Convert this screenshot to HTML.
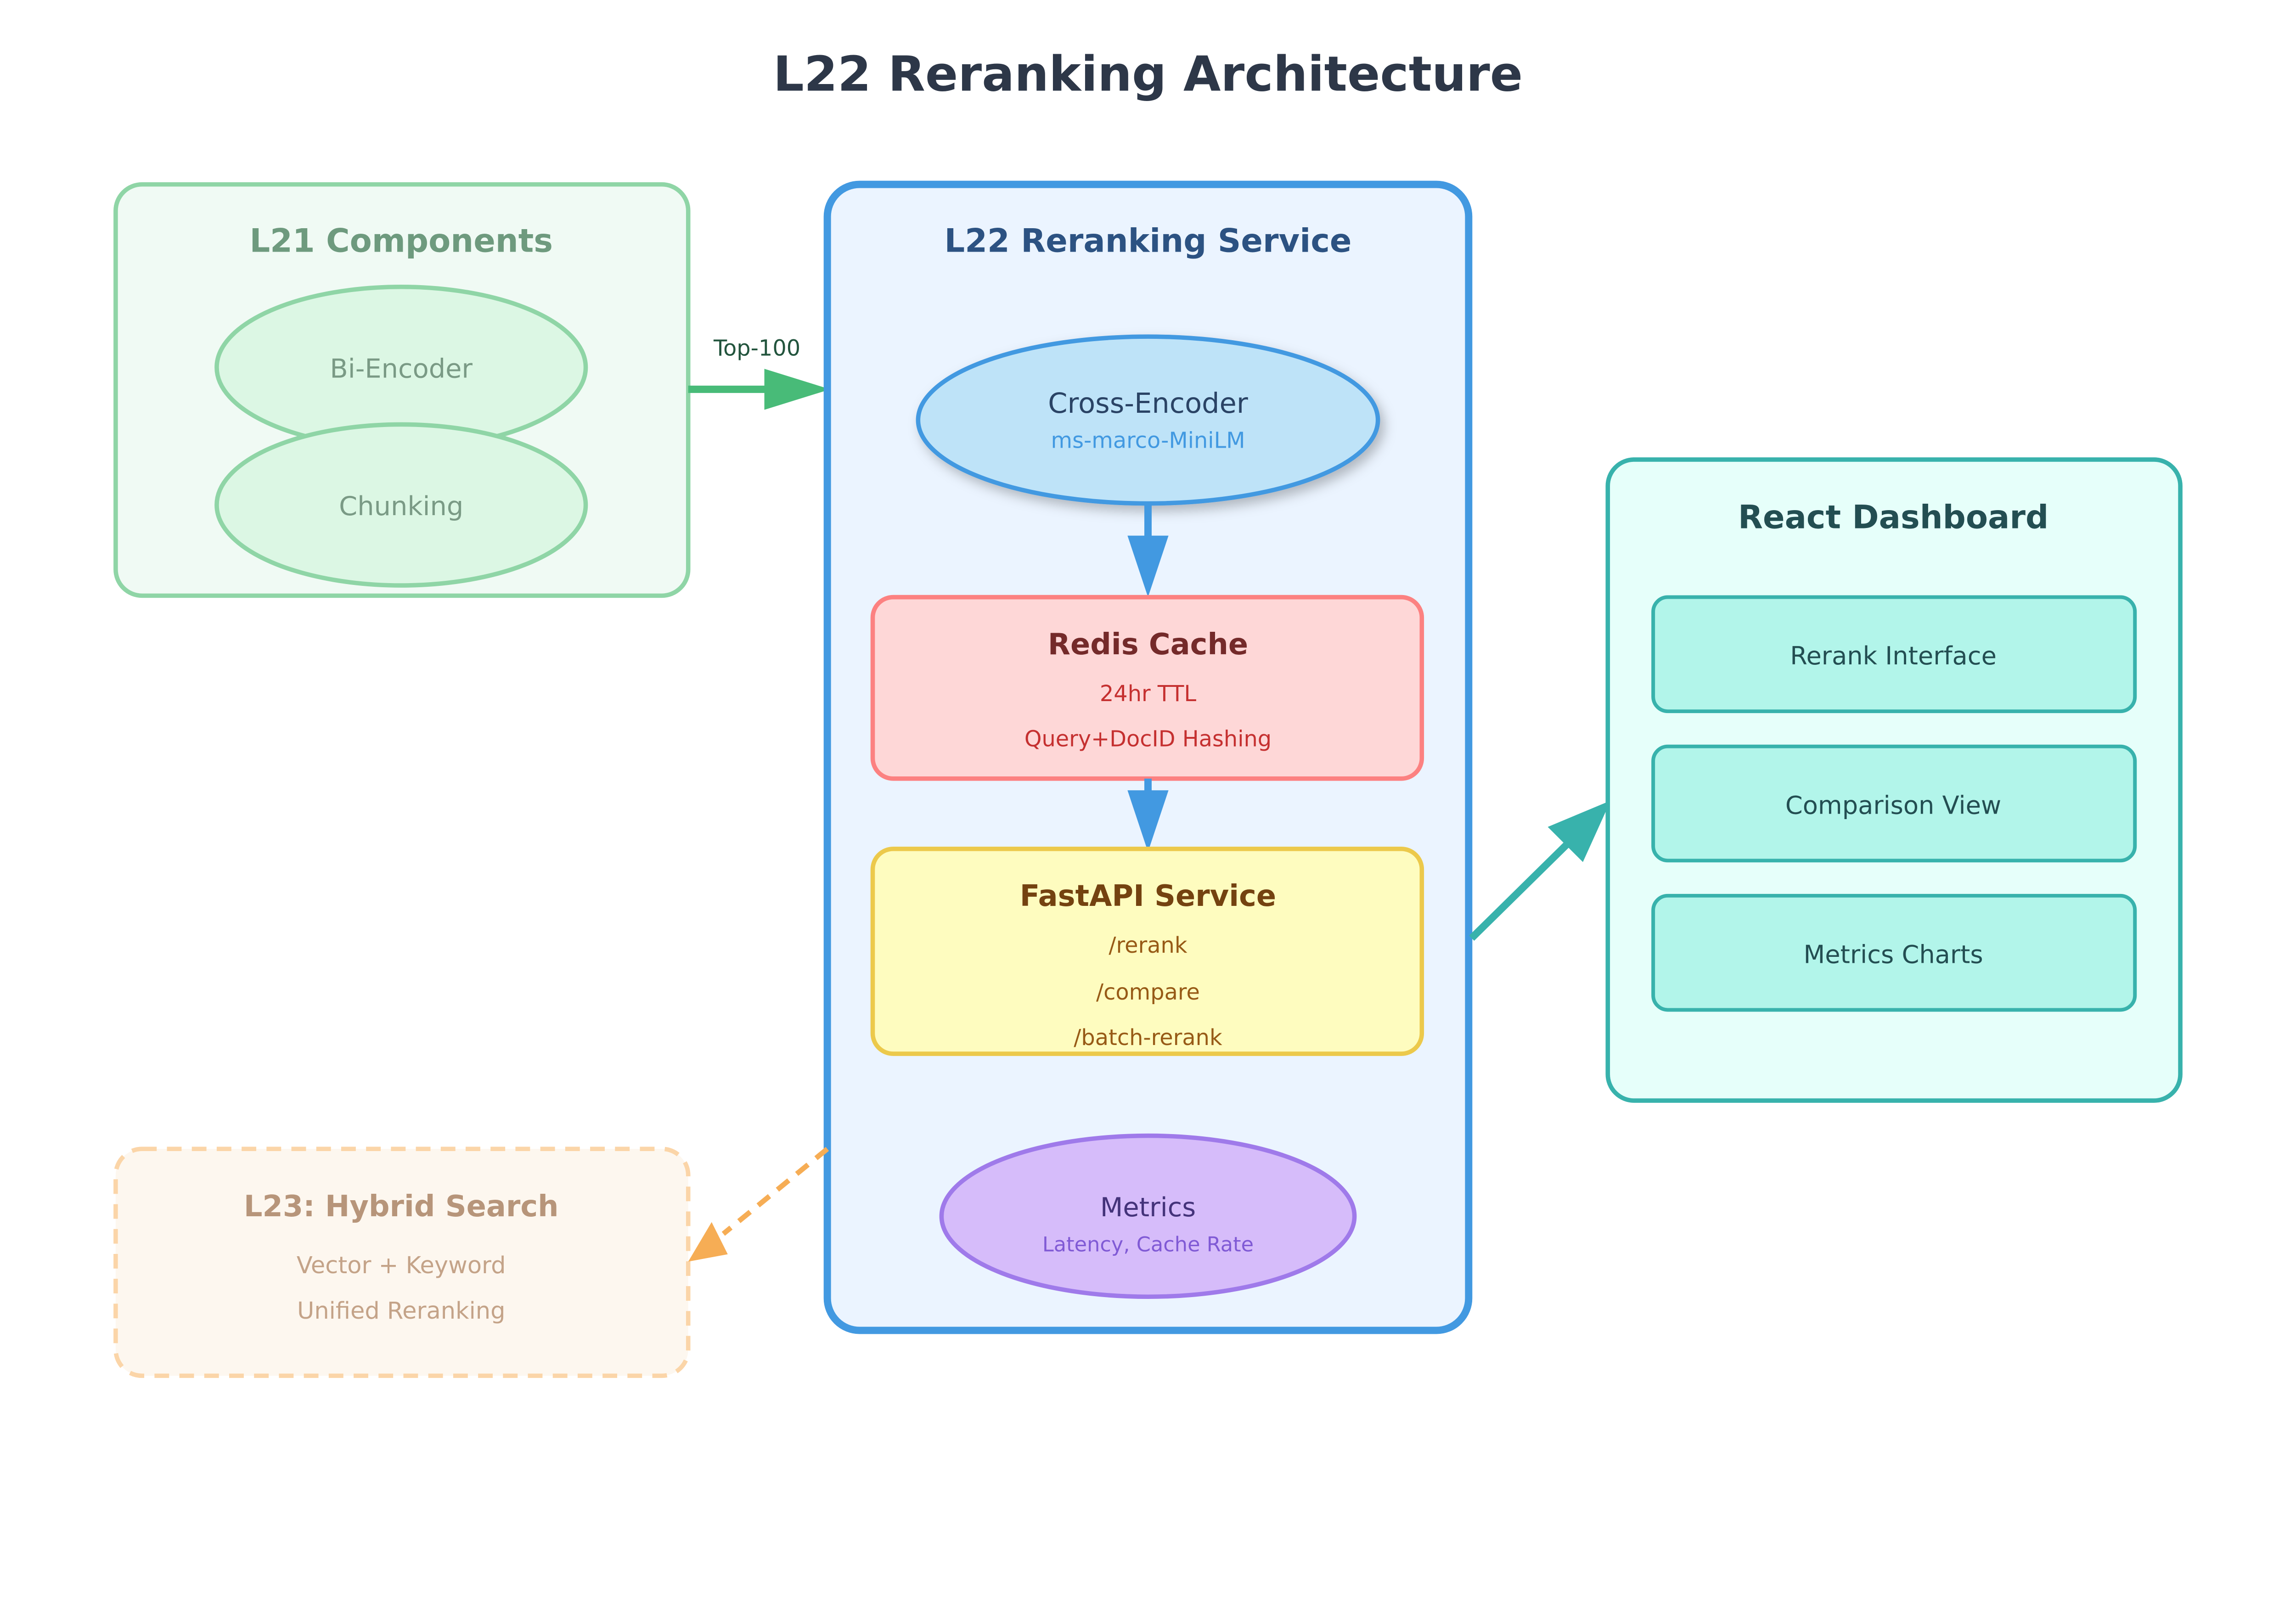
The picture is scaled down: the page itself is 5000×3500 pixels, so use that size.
<!DOCTYPE html>
<html><head><meta charset="utf-8"><style>
html,body{margin:0;padding:0;background:#fff;}
svg{display:block;}
text{font-family:"DejaVu Sans","Liberation Sans",sans-serif;text-anchor:middle;}
</style></head><body>
<svg width="5000" height="3500" viewBox="0 0 1568 1098" preserveAspectRatio="none" xmlns="http://www.w3.org/2000/svg">
<defs>
<filter id="sh" x="-20%" y="-20%" width="140%" height="150%"><feDropShadow dx="3" dy="4" stdDeviation="4" flood-color="#000" flood-opacity="0.25"/></filter>
</defs>
<rect width="1568" height="1098" fill="#fff"/>
<text x="784" y="62" font-size="33" font-weight="bold" fill="#2d3748">L22 Reranking Architecture</text>

<!-- L21 -->
<rect x="79" y="126" width="391" height="281" rx="18" fill="#f0faf4" stroke="#8fd5a6" stroke-width="3"/>
<text x="274" y="172" font-size="22" font-weight="bold" fill="#6e9a7e">L21 Components</text>
<ellipse cx="274" cy="251" rx="126" ry="55" fill="#dcf7e4" stroke="#8fd5a6" stroke-width="3"/>
<text x="274" y="258" font-size="18" fill="#7a9a85">Bi-Encoder</text>
<ellipse cx="274" cy="345" rx="126" ry="55" fill="#dcf7e4" stroke="#8fd5a6" stroke-width="3"/>
<text x="274" y="352" font-size="18" fill="#7a9a85">Chunking</text>

<!-- Top-100 arrow -->
<line x1="470" y1="266" x2="525" y2="266" stroke="#48bb78" stroke-width="5"/>
<polygon points="522,252 567,266 522,280" fill="#48bb78"/>
<text x="517" y="243" font-size="15" fill="#22543d">Top-100</text>

<!-- L22 -->
<rect x="565" y="126" width="438" height="783" rx="22" fill="#ebf4ff" stroke="#4299e1" stroke-width="5"/>
<text x="784" y="172" font-size="22" font-weight="bold" fill="#2c5282">L22 Reranking Service</text>
<ellipse cx="784" cy="287" rx="157" ry="57" fill="#bee3f8" stroke="#4299e1" stroke-width="3" filter="url(#sh)"/>
<text x="784" y="282" font-size="19" fill="#2a4365">Cross-Encoder</text>
<text x="784" y="306" font-size="15" fill="#4299e1">ms-marco-MiniLM</text>

<line x1="784" y1="345" x2="784" y2="370" stroke="#4299e1" stroke-width="5"/>
<polygon points="770,366 798,366 784,408" fill="#4299e1"/>

<rect x="596" y="408" width="375" height="124" rx="14" fill="#fed7d7" stroke="#fc8181" stroke-width="3"/>
<text x="784" y="447" font-size="20" font-weight="bold" fill="#742a2a">Redis Cache</text>
<text x="784" y="479" font-size="15" fill="#c53030">24hr TTL</text>
<text x="784" y="510" font-size="15" fill="#c53030">Query+DocID Hashing</text>

<line x1="784" y1="532" x2="784" y2="545" stroke="#4299e1" stroke-width="5"/>
<polygon points="770,540 798,540 784,582" fill="#4299e1"/>

<rect x="596" y="580" width="375" height="140" rx="14" fill="#fefcbf" stroke="#ecc94b" stroke-width="3"/>
<text x="784" y="619" font-size="20" font-weight="bold" fill="#744210">FastAPI Service</text>
<text x="784" y="651" font-size="15" fill="#975a16">/rerank</text>
<text x="784" y="683" font-size="15" fill="#975a16">/compare</text>
<text x="784" y="714" font-size="15" fill="#975a16">/batch-rerank</text>

<ellipse cx="784" cy="831" rx="141" ry="55" fill="#d6bcfa" stroke="#9f7aea" stroke-width="3"/>
<text x="784" y="831" font-size="18" fill="#44337a">Metrics</text>
<text x="784" y="855" font-size="14" fill="#805ad5">Latency, Cache Rate</text>

<!-- Dashboard arrow -->
<line x1="1005" y1="641" x2="1070" y2="577" stroke="#38b2ac" stroke-width="5"/>
<polygon points="1057,565 1100,547 1081,589" fill="#38b2ac"/>

<!-- Dashboard -->
<rect x="1098" y="314" width="391" height="438" rx="18" fill="#e6fffa" stroke="#38b2ac" stroke-width="3"/>
<text x="1293" y="361" font-size="22" font-weight="bold" fill="#234e52">React Dashboard</text>
<rect x="1129" y="408" width="329" height="78" rx="10" fill="#b2f5ea" stroke="#38b2ac" stroke-width="2.5"/>
<text x="1293" y="454" font-size="17" fill="#234e52">Rerank Interface</text>
<rect x="1129" y="510" width="329" height="78" rx="10" fill="#b2f5ea" stroke="#38b2ac" stroke-width="2.5"/>
<text x="1293" y="556" font-size="17" fill="#234e52">Comparison View</text>
<rect x="1129" y="612" width="329" height="78" rx="10" fill="#b2f5ea" stroke="#38b2ac" stroke-width="2.5"/>
<text x="1293" y="658" font-size="17" fill="#234e52">Metrics Charts</text>

<!-- L23 -->
<rect x="79" y="785" width="391" height="155" rx="18" fill="#fdf7ef" stroke="#fbd5a8" stroke-width="3" stroke-dasharray="10,7"/>
<text x="274" y="831" font-size="20" font-weight="bold" fill="#b7957a">L23: Hybrid Search</text>
<text x="274" y="870" font-size="16" fill="#c4a388">Vector + Keyword</text>
<text x="274" y="901" font-size="16" fill="#c4a388">Unified Reranking</text>

<line x1="565" y1="785" x2="494" y2="843" stroke="#f6ad55" stroke-width="3.5" stroke-dasharray="10,7"/>
<polygon points="470,862 486,835 497,857" fill="#f6ad55"/>
</svg>
</body></html>
